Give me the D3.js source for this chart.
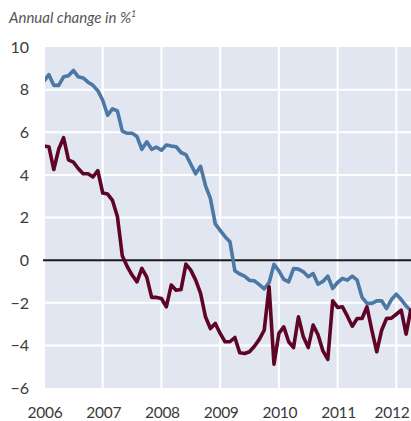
<!DOCTYPE html>
<html><head><meta charset="utf-8">
<script src="https://cdn.jsdelivr.net/npm/d3@7"></script>
<style>
html,body{margin:0;padding:0;background:#fff;}
svg{display:block;}
</style></head>
<body><svg id="c" width="411" height="421"></svg>
<script>
const startYear = 2006;
const blueSeries = [8.4,8.7,8.2,8.2,8.6,8.65,8.9,8.6,8.55,8.35,8.2,7.95,7.5,6.8,7.1,7.0,6.05,5.95,5.95,5.8,5.2,5.55,5.2,5.3,5.15,5.4,5.35,5.32,5.05,4.95,4.5,4.05,4.4,3.5,2.9,1.7,1.4,1.1,0.86,-0.5,-0.65,-0.75,-0.95,-0.97,-1.15,-1.35,-1.06,-0.2,-0.5,-0.9,-1.02,-0.4,-0.42,-0.55,-0.78,-0.63,-1.13,-1.0,-0.75,-1.33,-1.05,-0.86,-0.94,-0.75,-0.94,-1.75,-2.03,-2.03,-1.91,-1.91,-2.27,-1.85,-1.6,-1.85,-2.15,-2.38];
const redSeries = [5.35,5.32,4.25,5.2,5.75,4.7,4.6,4.3,4.05,4.05,3.9,4.2,3.15,3.1,2.8,2.05,0.2,-0.3,-0.7,-1.02,-0.39,-0.8,-1.75,-1.75,-1.8,-2.19,-1.17,-1.41,-1.38,-0.19,-0.47,-0.94,-1.56,-2.66,-3.21,-2.97,-3.44,-3.83,-3.83,-3.63,-4.35,-4.38,-4.3,-4.04,-3.72,-3.29,-1.25,-4.88,-3.44,-3.13,-3.83,-4.1,-2.66,-3.6,-4.1,-3.05,-3.5,-4.26,-4.66,-1.91,-2.22,-2.19,-2.63,-3.1,-2.74,-2.74,-2.19,-3.29,-4.3,-3.29,-2.74,-2.72,-2.54,-2.35,-3.47,-2.27];
const yTicks = [-6,-4,-2,0,2,4,6,8,10];
const xTicks = [2006,2007,2008,2009,2010,2011,2012];
const titleText = "Annual change in %";
const titleSup = "1";

const svg = d3.select("#c");
const L = 44, R = 411, T = 47, B = 388;
const x = d3.scaleLinear().domain([2006, 2012.25]).range([L, R]);
const y = d3.scaleLinear().domain([-6, 10]).range([B, T]);

svg.append("rect").attr("x", 45).attr("y", T).attr("width", R - 45).attr("height", B - T).attr("fill", "#e1e6f1");

const g = svg.append("g");
g.selectAll(".hg").data(yTicks.filter(d => d > -6 && d < 10 && d !== 0)).enter().append("line")
  .attr("x1", 45).attr("x2", R).attr("y1", d => y(d)).attr("y2", d => y(d))
  .attr("stroke", "#fff").attr("stroke-width", 2);
g.selectAll(".vg").data(xTicks.filter(d => d > 2006)).enter().append("line")
  .attr("x1", d => x(d)).attr("x2", d => x(d)).attr("y1", T).attr("y2", B)
  .attr("stroke", "#fff").attr("stroke-width", 2);

svg.append("line").attr("x1", 43).attr("x2", R).attr("y1", y(0)).attr("y2", y(0))
  .attr("stroke", "#1a1a1a").attr("stroke-width", 2);

svg.append("clipPath").attr("id", "clip").append("rect").attr("x", 45).attr("y", T).attr("width", R - 45).attr("height", B - T);

const line = d3.line().x((d, i) => x(startYear + i / 12)).y(d => y(d));
svg.append("path").datum(blueSeries).attr("d", line).attr("fill", "none")
  .attr("stroke", "#4b78a4").attr("stroke-width", 3.6).attr("stroke-linejoin", "round").attr("clip-path", "url(#clip)");
svg.append("path").datum(redSeries).attr("d", line).attr("fill", "none")
  .attr("stroke", "#5e0425").attr("stroke-width", 3.6).attr("stroke-linejoin", "round").attr("clip-path", "url(#clip)");

const font = "Lato, 'Open Sans', sans-serif";
svg.selectAll(".yl").data(yTicks).enter().append("text")
  .attr("x", 29).attr("y", d => y(d)).attr("dy", "0.36em").attr("text-anchor", "end")
  .attr("font-family", font).attr("font-size", 16).attr("fill", "#3a3a3a")
  .text(d => d < 0 ? "\u2212" + Math.abs(d) : d);
svg.selectAll(".xl").data(xTicks).enter().append("text")
  .attr("x", d => Math.min(x(d) + 1, 392)).attr("y", 418).attr("text-anchor", "middle")
  .attr("font-family", font).attr("font-size", 15.5).attr("letter-spacing", -0.3).attr("fill", "#3a3a3a")
  .text(d => d);

const t = svg.append("text").attr("x", 9).attr("y", 23)
  .attr("font-family", font).attr("font-size", 15).attr("font-style", "italic").attr("fill", "#555");
t.append("tspan").text(titleText);
t.append("tspan").attr("font-size", 9).attr("dy", -6).text(titleSup);
</script></body></html>
